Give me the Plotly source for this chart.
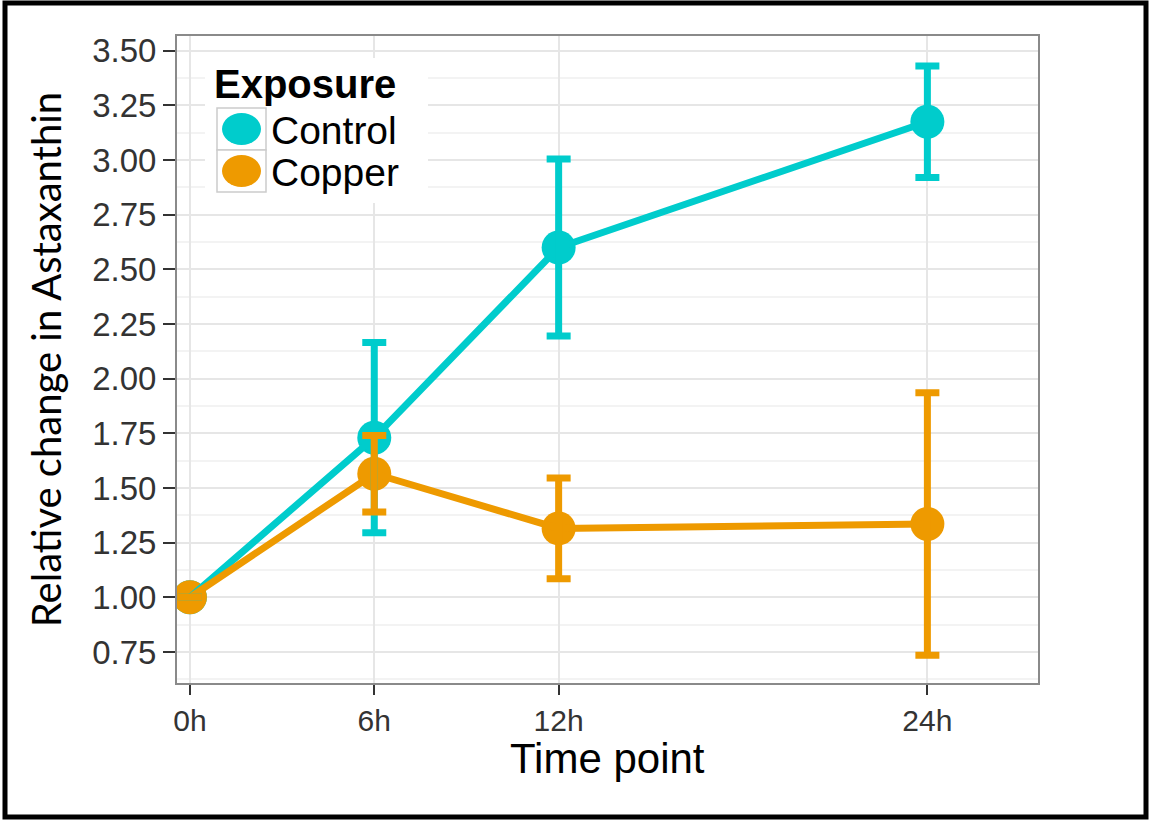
import plotly.graph_objects as go

# Time points (hours) and their axis labels
hours = [0, 6, 12, 24]
hour_labels = ["0h", "6h", "12h", "24h"]

# Relative change in astaxanthin, mean and error (±) per exposure group
control_mean = [1.00, 1.73, 2.60, 3.175]
control_err = [0.0, 0.435, 0.405, 0.255]
copper_mean = [1.00, 1.565, 1.315, 1.335]
copper_err = [0.0, 0.175, 0.23, 0.60]

y_ticks = [0.75, 1.00, 1.25, 1.50, 1.75, 2.00, 2.25, 2.50, 2.75, 3.00, 3.25, 3.50]
y_minor = [0.625, 0.875, 1.125, 1.375, 1.625, 1.875, 2.125, 2.375, 2.625, 2.875, 3.125, 3.375]

CYAN = "rgb(0,204,204)"
ORANGE = "rgb(238,154,0)"
TICK_FONT = "Liberation Sans, Arial, sans-serif"

W, H = 1150, 820
L, R, T, B = 177, 1038, 36, 683


def px(x):
    return (x - L) / (R - L)


def py(y):
    return (B - y) / (B - T)


fig = go.Figure()

groups = [("Control", control_mean, control_err, CYAN),
          ("Copper", copper_mean, copper_err, ORANGE)]

# points first, then connecting lines, then error bars on top
for name, mean, err, col in groups:
    fig.add_trace(go.Scatter(x=hours, y=mean, mode="markers", name=name,
                             marker=dict(size=34, color=col), showlegend=False))
for name, mean, err, col in groups:
    fig.add_trace(go.Scatter(x=hours, y=mean, mode="lines", name=name,
                             line=dict(width=7, color=col), showlegend=False))
for name, mean, err, col in groups:
    fig.add_trace(go.Scatter(x=hours, y=mean, mode="markers", name=name,
                             marker=dict(size=1, color=col, opacity=0),
                             error_y=dict(type="data", array=err, symmetric=True,
                                          color=col, thickness=7, width=12),
                             showlegend=False))

shapes = []
annotations = []

# legend box with keys
shapes.append(dict(type="rect", xref="paper", yref="paper", layer="above",
                   x0=px(205), x1=px(428), y0=py(203), y1=py(58),
                   fillcolor="white", line=dict(width=0)))
for i, (name, mean, err, col) in enumerate(groups):
    top = 108 + i * 42
    shapes.append(dict(type="rect", xref="paper", yref="paper", layer="above",
                       x0=px(217), x1=px(266), y0=py(top + 42), y1=py(top),
                       fillcolor="white", line=dict(color="#cccccc", width=1.5)))
    shapes.append(dict(type="circle", xref="paper", yref="paper", layer="above",
                       x0=px(222), x1=px(261), y0=py(top + 37), y1=py(top + 5),
                       fillcolor=col, line=dict(width=0)))
    annotations.append(dict(text=name, xref="paper", yref="paper", showarrow=False,
                            x=px(270), y=py(top + 22), xanchor="left", yanchor="middle",
                            borderpad=0,
                            font=dict(family=TICK_FONT, size=39, color="black")))
annotations.append(dict(text="<b>Exposure</b>", xref="paper", yref="paper", showarrow=False,
                        x=px(213), y=py(84), xanchor="left", yanchor="middle",
                        borderpad=0,
                        font=dict(family=TICK_FONT, size=40, color="black")))

# x-axis title
annotations.append(dict(text="Time point", xref="paper", yref="paper", showarrow=False,
                        x=px(607), y=py(758), xanchor="center", yanchor="middle",
                        font=dict(family=TICK_FONT, size=42, color="black")))

# outer black frame
shapes.append(dict(type="rect", xref="paper", yref="paper", layer="above",
                   x0=px(5), x1=px(1146), y0=py(817), y1=py(3),
                   line=dict(color="black", width=5), fillcolor="rgba(0,0,0,0)"))

fig.update_layout(
    width=W, height=H,
    margin=dict(l=L, r=W - R, t=T, b=H - B),
    paper_bgcolor="white", plot_bgcolor="white",
    showlegend=False,
    shapes=shapes, annotations=annotations,
)

fig.update_xaxes(
    range=[-0.42, 27.6], tickmode="array", tickvals=hours, ticktext=hour_labels,
    showgrid=True, gridcolor="#e6e6e6", gridwidth=2, zeroline=False,
    showline=True, mirror=True, linecolor="#8a8a8a", linewidth=2,
    ticks="outside", ticklen=10, tickwidth=2, tickcolor="#333333",
    tickfont=dict(family=TICK_FONT, size=30, color="#333333"),
)
fig.update_yaxes(
    range=[0.608, 3.567], tickmode="array", tickvals=y_ticks, tickformat=".2f",
    showgrid=True, gridcolor="#e6e6e6", gridwidth=2, zeroline=False,
    minor=dict(tickmode="array", tickvals=y_minor, showgrid=True,
               gridcolor="#f3f3f3", gridwidth=1.5, ticks=""),
    showline=True, mirror=True, linecolor="#8a8a8a", linewidth=2,
    ticks="outside", ticklen=12, tickwidth=2, tickcolor="#333333",
    tickfont=dict(family=TICK_FONT, size=33, color="#333333"),
    title=dict(text="Relative change in Astaxanthin", standoff=18,
               font=dict(family="Lato, sans-serif", size=40, color="black")),
)

fig.write_html("out.html")
